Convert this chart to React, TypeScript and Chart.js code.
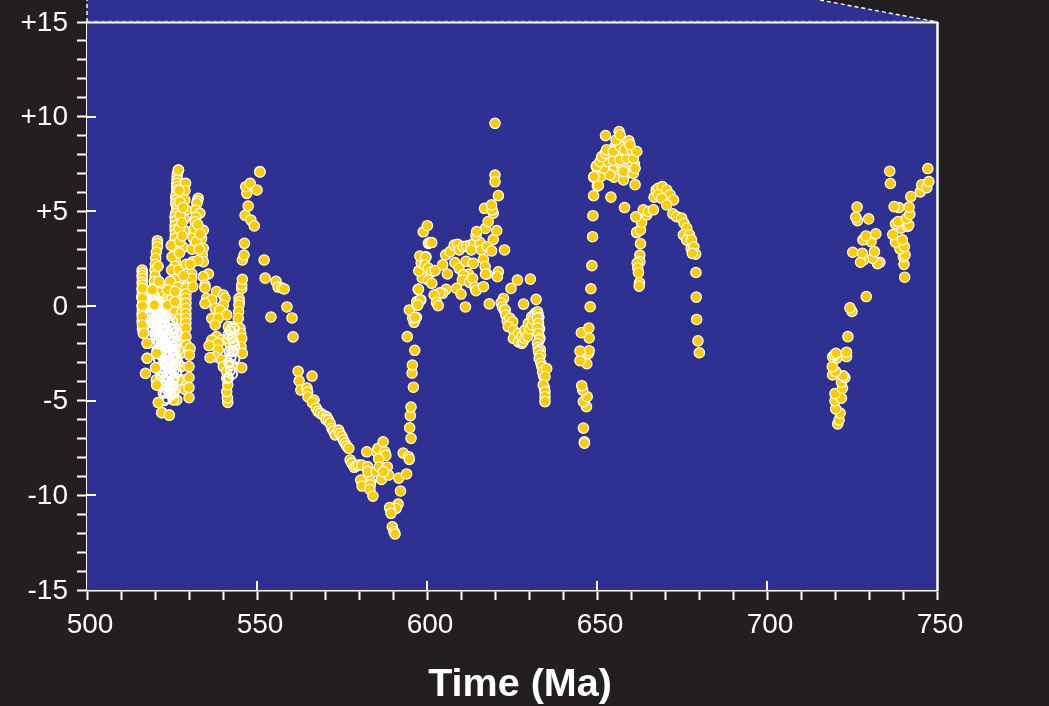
import React, { useEffect, useRef } from "react";
import { Chart, registerables } from "chart.js";

Chart.register(...registerables);

const background = "#231f20";
const panelBlue = "#2e3192";
const markerYellow = "#ffcc00";

const yTickLabels: Record<number, string> = { 15: "+15", 10: "+10", 5: "+5", 0: "0", [-5]: "-5", [-10]: "-10", [-15]: "-15" };
const xLabelEvery = 50;
const yLabelEvery = 5;
const axisTitle = "Time (Ma)";

// upper edge of the panel, beyond the axis limits
const outlineAges = [500, 500, 715.6, 750];
const outlineValues = [15, 16.16, 16.16, 15];

const columnA = [[516.2,1.9],[516.3,1.75],[516.2,1.6],[516.3,1.45],[516.2,1.25],[516.3,1.1],[516.2,0.9],[516.3,0.7],[516.1,0.5],[516.3,0.4],[516.4,0.2],[516.2,0],[516.3,-0.2],[516.2,-0.4],[516.3,-0.6],[516.2,-0.8],[516.4,-1],[516.3,-1.2],[516.6,-1.45],[517.7,-1.97],[517.7,-2.76],[517.2,-3.56]];
const columnB = [[520.7,3.45],[520.7,3.3],[520.7,3.13],[520.4,2.85],[520.2,2.52],[520.1,2.2],[520,1.9],[520,1.59],[519.8,1.3],[519.5,0.93],[519.2,0.85],[519.4,0.6],[519.6,0.3],[519.8,0.05],[520.4,0.4],[520.6,0.1],[520.5,-2.5],[520.2,-3.26],[520.5,-4.17],[520.4,-3.9],[521,-5.1],[522,-5.63],[524.2,-5.76]];
const columnC = [[523.9,1.11],[523.7,0.85],[523.7,0.5],[523.7,0.05],[523.9,-0.3],[525.9,0.76],[525.9,0.23],[525.8,-0.2],[526.4,-4.96],[525.4,-4.96],[525.7,-4.5],[525.8,-4.1]];
const columnD = [[526.9,7.18],[526.6,7],[526.5,6.83],[526.5,6.65],[526.4,6.48],[526.4,6.3],[526.4,6.13],[526.3,5.95],[526.1,5.78],[526.2,5.6],[526.1,5.42],[526.4,5.25],[526.4,5.07],[526.1,4.9],[525.9,4.72],[526,4.5],[525.9,4.25],[525.9,4.01],[526,3.8],[525.9,3.57],[525.9,3.25],[525.9,2.96],[525.9,2.7],[525.9,2.43],[526.9,2.08],[525.8,2.1],[525.7,1.73],[525.9,1.4],[529,6.48],[528.8,6.1],[528.8,5.6],[529.3,5.07],[528.6,4.6],[528.6,4],[528.3,3.1],[528.8,1.02]];
const columnE = [[529.1,0.93],[529.1,0.65],[529.1,0.41],[529.1,0.15],[529.1,-0.12],[529.1,-0.4],[529.1,-0.65],[529.1,-0.9],[529.1,-1.18],[529.1,-1.62],[529.3,-2.06],[530.3,-2.24],[530.1,-2.59],[530,-3.2],[530,-3.78],[530,-4.31],[530,-4.84]];
const columnF = [[532.7,5.69],[532.5,5.55],[532.3,5.42],[532,5.07],[533.2,4.9],[532,4.7],[531.8,4.45],[534.2,4],[531.5,3.75],[533.7,3.57],[531.5,3.13],[534.2,3.05],[533.9,2.7],[531.1,2.34],[534.2,2.34],[530.8,1.7],[535.7,1.69],[534.2,1.55],[530.8,1.46],[534.7,1.11],[531.1,1.02]];
const columnG = [[534.7,0.97],[538.1,0.76],[540.1,0.58],[535.2,0.41],[540.6,0.41],[536.7,0.32],[534.7,0.14],[540.1,0.05],[537.7,-0.12],[539.1,-0.21],[541.1,-0.47],[536.7,-0.65],[538.6,-0.65],[537.7,-1],[541.6,-1.09],[543,-1.09],[538.1,-1.62],[536.7,-1.8],[539.6,-1.8],[538.6,-1.97],[535.9,-2.09],[538.6,-2.32],[537.7,-2.68],[536.2,-2.73],[539.6,-2.85],[540.1,-3.2]];
const columnH = [[541.4,-5.09],[541.3,-4.85],[541.1,-4.52],[541.4,-4.17],[541.1,-3.82],[541.1,-3.47],[545.5,-3.26],[542.6,-3.1],[542.6,-2.41],[542.1,-2.06],[541.6,-1.71],[543,-1.53],[542.6,-1.18]];
const columnI = [[545.5,0.93],[544.7,0.41],[544.8,0.22],[544.7,0.05],[544.6,-0.3],[544.5,-0.65],[545,-1.18],[545.2,-1.45],[545.5,-1.71],[545.3,-2.15],[545.7,-2.5],[545.5,1.11],[545.7,1.41],[545.7,2.43],[546.2,2.69],[546.3,3.31],[546.5,4.79],[548.2,4.54],[549.2,4.23],[547.4,5.28],[547,5.95],[546.7,6.3],[548,6.48],[550,6.13],[550.8,7.1]];
const gapFill = [[521.5,1],[522.5,0.7],[524.5,1.3],[524.9,1.9],[525,2.6],[524.8,3.2],[525.1,0.4],[527.5,1],[527.6,0.3],[528,-0.3],[527.6,-1],[527.9,-1.8],[527.5,-2.5],[527.7,-3.2],[527.9,-3.9],[526.8,1],[526.7,0.2],[526.9,-0.7],[526.8,-1.5],[526.9,-2.3],[526.7,-3],[526.8,-3.9],[528.8,-4.4],[521.1,1.3],[521.2,0.7],[520.9,2.1],[521.3,-0.1]];

const denseEarlyA = [[518.4,0.5],[518.9,0.2],[519.3,-0.1],[518.7,-0.3],[519.6,-0.5],[519.1,-0.7],[520,-0.2],[520.3,-0.6],[519.8,-0.9],[520.6,-0.3],[520.9,-0.8],[520.5,-1],[521.2,-0.4],[521.4,-0.9],[521,-1.2],[521.7,-0.6],[522,-1.1],[521.6,-1.4],[522.3,-0.8],[522.5,-1.3],[522.1,-1.6],[518.2,-0.8],[518.7,-1.1],[519.3,-1.3],[519.9,-1.5],[520.4,-1.7],[521,-1.9],[519.1,0.4],[519.9,0.5],[520.7,0.3],[521.4,0.1],[522.1,-0.2],[522.7,-0.5],[523,-1],[523.2,-1.6],[522.8,-2]];
const denseEarlyB = [[521.5,-2.2],[522,-2.5],[522.6,-2.8],[523.2,-2.2],[523.7,-2.6],[522.2,-3.1],[522.8,-3.4],[523.4,-3],[524,-3.3],[524.5,-2.9],[522.6,-3.9],[523.2,-4.2],[523.8,-3.8],[524.4,-4.1],[525,-3.6],[525.4,-3.2],[523,-4.6],[523.6,-4.9],[524.2,-4.6],[524.8,-4.7],[525.3,-4.2],[525.7,-3.8],[524.1,-1.5],[524.7,-1.9],[525.2,-2.4],[525.6,-1.7],[526,-2.6],[524.5,-1],[525.2,-0.8],[525.8,-1.2],[526.2,-2],[526,-3.1]];
const denseEarlyC = [[518.5,0.1],[518.9,-0.5],[519.2,-0.9],[519.5,0.1],[519.9,-0.7],[520.2,0.1],[520.2,-1.3],[520.7,-0.6],[520.8,-1.4],[521.2,0],[521.1,-1.6],[521.6,-0.2],[521.5,-1],[521.9,-1.8],[522,-0.5],[522.3,-1.5],[522.5,-0.2],[522.7,-1.1],[522.9,-1.9],[523.1,-0.6],[523.4,-1.3],[523.5,-2],[523.8,-0.8],[523.9,-1.8],[521.8,-2.6],[522.3,-2.1],[522.4,-3.5],[522.9,-2.5],[523,-3.1],[523.3,-3.7],[523.5,-2.4],[523.9,-2.9],[524.1,-2.2],[524.3,-3.6],[524.6,-2.5],[524.8,-3.2],[525,-2.1],[525.1,-2.8],[525.3,-3.9],[525.5,-2.6],[525.7,-3.4],[523.4,-4.4],[523.9,-4.3],[524.5,-4.4],[525,-4.3],[525.5,-4.6],[524.9,-1.2],[525.4,-1.4],[525.9,-2.3],[526.3,-1.4],[526.4,-2.8],[526.4,-3.5],[520,-2],[520.6,-2.3],[521,-2.8],[521.3,-3.3],[521.8,-3.7],[522.1,-4.2],[522.4,-4.6],[522.7,-5]];
const denseLate = [[541.5,-1.5],[542.1,-1.3],[542.6,-1.7],[543.1,-1.9],[541.8,-2.4],[542.4,-2.7],[543,-2.4],[543.4,-2.1],[541.7,-3],[542.2,-3.4],[542.8,-3.6],[541.6,-3.8],[543.4,-1.2],[543.5,-2.8]];
const denseEarlyTop = [[527,1.9],[527.2,2.8],[527.3,3.4],[527.1,4.1],[527.4,4.8],[527.3,5.5],[527.1,6.1],[527.9,4.4],[528,3.7],[528.2,5.2],[530.9,3],[531.2,3.6],[531.6,4.1],[532.1,3.4],[532.6,4.3],[533,3],[533.3,3.8],[532.6,2.4],[529.2,2.2],[528.4,1.6],[530.4,2.2]];
const upperVisible = [[516.3,0.93],[516.3,0.41],[516.3,0],[516.3,-0.56],[516.3,-1],[516.6,-1.44],[517.7,-1.97],[517.7,-2.76],[519.2,0.85],[519.8,0.05],[520.5,-2.5],[520.2,-3.26],[520.5,-4.17],[521,-5.1],[522,-5.63],[524.2,-5.76],[523.7,0.85],[523.7,0.05],[525.9,0.76],[525.9,0.23],[526.9,7.18]];

const slope = [[550.9,7.08],[552.1,2.43],[552.4,1.47],[555.6,1.3],[556.2,1],[557.4,0.95],[558,0.9],[558.8,-0.05],[560.3,-0.63],[554.1,-0.58],[560.6,-1.63],[562.1,-3.45],[566.2,-3.7],[562.4,-3.96],[562.9,-4.44],[564.7,-4.33],[564.9,-4.55],[565,-4.8],[566.8,-4.97],[566.3,-5.1],[567.4,-5.39],[568,-5.58],[568.7,-5.67],[569.5,-5.76],[570.5,-5.85],[570.3,-6],[571,-6.02],[571.5,-6.2],[572,-6.46],[572.5,-6.6],[573,-6.81],[574,-6.55],[574.4,-6.73],[575,-6.9],[575.4,-7.08],[575.9,-7.25],[576.4,-7.4],[577,-7.52]];
const trough = [[577.4,-8.13],[577.9,-8.31],[578.6,-8.52],[579.2,-8.45],[579.8,-8.4],[580.8,-8.4],[582.3,-7.7],[582.6,-8.49],[582.6,-8.75],[580.5,-9.19],[580.9,-9.51],[583.4,-9.28],[583.3,-9.45],[583.2,-9.69],[584.1,-10.04],[585,-8.75],[585.2,-7.7],[585.6,-7.52],[587.1,-7.17],[587.6,-7.7],[587.9,-7.89],[585.8,-8.08],[586,-8.49],[588.3,-8.5],[586.6,-9.16],[588.7,-8.93],[587.2,-8.75],[591.7,-9.09],[594,-8.87],[592.2,-9.77],[593,-7.77],[594.6,-7.96],[594.8,-8.1],[591.5,-10.46],[590.9,-10.69],[589,-10.65],[589.4,-10.95],[589.8,-11.66],[590.3,-11.92],[590.6,-12.04]];
const rise = [[595.3,-6.99],[594.9,-6.43],[595.1,-5.79],[595.3,-5.34],[596,-4.29],[595.6,-3.54],[595.7,-3.12],[596.4,-2.34],[594.2,-1.62],[596.9,-0.6],[596.2,-0.86],[595.8,-0.63],[594.8,-0.21],[597.1,0.05],[597,0.23],[598.2,0.32],[597.4,0.88],[598.6,1.48],[597.6,1.85],[598.3,2.29],[597.9,2.64],[599.7,2.6],[600.4,3.31],[598.9,3.92],[600.1,4.24]];
const plateau = [[600.9,3.35],[601.4,3.35],[599.6,2.57],[599.4,2.17],[600.4,2],[601.4,1.81],[602.4,1.87],[600.4,1.37],[601.4,1.2],[597.5,0.88],[598,0.32],[597.3,0.05],[596.5,-0.6],[604.6,2.17],[606,1.69],[605.5,2.7],[606.8,2.87],[608,3.22],[609,3.26],[609.5,2.96],[610.7,3.14],[611.7,3.17],[612.9,3.22],[613.8,3.31],[615.6,3.35],[608.2,2.29],[609.4,1.99],[611.5,2.36],[613,2.96],[616,2.96],[617.7,3.14],[619,2.91],[619.5,3.52],[620.5,3.98],[617.2,4.1],[618,4.46],[614.4,3.72],[614.6,3.93],[616.9,5.16],[619.5,4.9],[619.2,5.07],[619,5.34],[622.8,2.96],[616.6,2.47],[613.6,2.25],[617.1,2.08],[617.7,1.69],[617.2,1.69],[621,1.81],[620.7,1.55],[612.2,1.69],[610.7,1.64],[610.4,1.37],[612.5,1.25],[613.4,1.46],[614.1,0.99],[614.4,0.81],[616.6,1.02],[605.6,0.88],[604.6,0.67],[603.8,0.7],[602.1,0.58],[608.7,0.93],[610,0.63],[602.8,0.18],[603.3,0.02],[611.3,-0.05],[618.3,0.11],[620,9.65],[620,6.92],[620,6.56],[621,5.83]];
const decline = [[626.6,1.37],[630.4,1.42],[624.7,0.93],[632.1,0.35],[628.4,0.1],[622.5,0.4],[621.8,0.17],[622.2,-0.05],[622.7,-0.21],[623,-0.2],[623.2,-0.48],[623.6,-0.8],[624.4,-0.65],[624.7,-0.95],[625.2,-0.83],[623.9,-1.09],[625.4,-1.27],[625.4,-1.71],[626.9,-1.45],[626.9,-1.89],[627.9,-1.97],[628.2,-1.9],[627.9,-1.62],[628.8,-1.71],[629.3,-1.27],[628.8,-1.27],[629.6,-1.6],[629.8,-0.92],[630.3,-1.2],[630.8,-0.57],[631,-1],[631.2,-0.7],[631.8,-0.39],[632.5,-0.3],[632.7,-0.45],[632.9,-0.6],[632.5,-0.65],[632.8,-0.92],[633.1,-1.2],[632.6,-1.15],[632.8,-1.45],[633.2,-1.7],[633,-1.8],[632.5,-1.97],[632.7,-2.2],[633.3,-2.3],[632.8,-2.41],[633.4,-2.6],[633,-2.77],[633.5,-3.03],[633.8,-3.2],[634.3,-3.7],[634,-3.47],[635.2,-3.3],[634.7,-3.73],[634.5,-4.3],[634.2,-4.17],[634.7,-4.53],[634.7,-4.79],[634.7,-5.05]];
const secondRise = [[646.3,-7.17],[646.3,-7.25],[646,-6.45],[646.9,-5.32],[646,-5.05],[647.1,-4.79],[645.8,-4.44],[645.5,-4.21],[647,-3.05],[645,-2.89],[647.5,-2.5],[647.7,-2.36],[645,-2.38],[647.7,-1.69],[645.4,-1.41],[647.6,-1.16],[648,-0.04],[648.2,0.91],[648.5,2.13],[648.7,3.66],[648.8,4.77],[649,5.83],[649.1,6.79],[650.1,6.34],[649.8,7.36]];
const summit = [[650.6,7.1],[651.5,7.5],[652.3,7.6],[653,7.9],[654,8.1],[655.2,8.4],[656,8.6],[657.3,8.8],[658,8.4],[659,8.2],[660,8.05],[661,7.5],[655.5,7.4],[654.5,7.2],[656.2,7.9],[657.5,7.5],[659.5,7.4],[658.8,7],[660,7.6],[652.5,7.1],[655,6.8],[650.4,6.36],[651.1,6.84],[649.1,6.84],[653.8,6.92],[657.8,6.66],[660.7,7.01],[661.2,7.28],[657.8,7.1],[651.9,7.28],[649.9,7.4],[650.9,7.63],[653.3,7.63],[654.8,7.72],[656.8,7.72],[658.7,7.81],[660.7,7.81],[651.4,7.89],[652.4,8.07],[652.8,8.25],[654.8,8.16],[656.8,8.42],[658.2,8.25],[660.2,8.25],[661.7,8.16],[659.4,8.72],[659.7,8.51],[655.6,8.77],[656.5,9.21],[656.8,9.04],[652.5,9],[661.2,6.41],[654.1,5.75],[658.1,5.2]];
const shoulder = [[661.7,3.87],[662.8,3.29],[662.6,2.69],[662.6,2.34],[661.8,2.27],[662,2],[662.2,1.76],[662.5,1.23],[662.4,1.05],[661.7,3.9],[662.8,4.02],[663.1,4.41],[661.4,4.71],[664.6,4.81],[663.6,5.08],[665.1,4.99],[666.6,5.08],[666.8,5.75],[667.4,6.13],[668,6.22],[669.2,6.31],[670.5,6.13],[671.5,5.87],[672.5,5.6],[668,5.87],[669,5.69],[670.5,5.34],[672.3,4.87],[673.4,4.72],[674.9,4.64],[675.6,4.37],[676.4,4.11],[675.4,3.76],[677.2,3.76],[676.4,3.48],[677.8,3.49],[677.7,3.04],[678.5,3.13],[679,2.74],[678,2.78],[679.1,1.77],[679.2,0.47],[679.3,-0.71],[679.7,-1.84],[680.1,-2.47]];
const lastLow = [[720.8,-6.23],[721.2,-6.02],[721.5,-5.66],[720.2,-5.43],[720,-5.01],[721.9,-4.87],[720,-4.63],[722.2,-4.34],[721.9,-4.03],[722.9,-3.78],[722.4,-3.69],[719.3,-3.64],[720.2,-3.46],[719.2,-3.2],[720.5,-2.76],[719.3,-2.69],[719.8,-2.58],[720.3,-2.5],[723.4,-2.67],[723.4,-2.44],[723.8,-1.62],[725,-0.29],[724.4,-0.1],[729.2,0.5]];
const lastMiddle = [[733.2,2.31],[732.5,2.24],[731,2.52],[728.4,2.43],[727.5,2.31],[728,2.79],[725.2,2.84],[731.6,2.87],[730.6,3.4],[728.2,3.49],[729.1,3.7],[732,3.81],[729.9,4.6],[726.6,4.51],[726.1,4.69],[726.5,5.22]];
const lastHigh = [[740.5,1.52],[740.3,2.2],[740.1,2.61],[740.6,2.7],[739.1,3.02],[740.4,3.14],[737.8,3.37],[739.8,3.49],[737,3.77],[739.4,4.11],[737.8,4.34],[738.6,4.46],[741.4,4.2],[741.7,4.28],[741,4.63],[742,4.85],[738.8,5.2],[737.4,5.25],[741.8,5.22],[742.3,5.78],[745.1,6.03],[745.5,6.4],[747,6.25],[747.6,6.57],[747.3,7.26],[736.3,6.47],[736.1,7.12]];

const baseLayer = [columnA, columnB, columnC, columnD, gapFill, columnE, columnF, columnG, columnH, columnI, denseEarlyTop, slope, trough, rise, plateau, decline, secondRise, summit, shoulder, lastLow, lastMiddle, lastHigh].flat();
const ringLayer = [denseEarlyA, denseEarlyB, denseEarlyC, denseLate].flat();
const toPoints = (pairs: number[][]) => pairs.map(([x, y]) => ({ x, y }));

const panelPlugin = {
  id: "panel",
  beforeDatasetsDraw(chart: any) {
    const { ctx, chartArea: a, scales } = chart;
    const { x, y } = scales;
    ctx.save();
    ctx.fillStyle = panelBlue;
    ctx.fillRect(a.left, a.top, a.right - a.left, a.bottom - a.top);
    ctx.beginPath();
    outlineAges.forEach((age, i) => {
      const px = x.getPixelForValue(age);
      const py = y.getPixelForValue(outlineValues[i]);
      if (i === 0) ctx.moveTo(px, py);
      else ctx.lineTo(px, py);
    });
    ctx.closePath();
    ctx.fill();
    ctx.strokeStyle = "#ffffff";
    ctx.lineWidth = 1.4;
    ctx.setLineDash([4, 3]);
    ctx.beginPath();
    outlineAges.forEach((age, i) => {
      const px = x.getPixelForValue(age);
      const py = y.getPixelForValue(outlineValues[i]);
      if (i === 0) ctx.moveTo(px, py);
      else if (i !== 2) ctx.lineTo(px, py);
      else ctx.moveTo(px, py);
    });
    ctx.stroke();
    ctx.strokeStyle = "rgba(255,255,255,0.35)";
    ctx.lineWidth = 1;
    ctx.beginPath();
    ctx.moveTo(a.left, a.top - 1);
    ctx.lineTo(a.right, a.top - 1);
    ctx.stroke();
    ctx.setLineDash([]);
    ctx.strokeStyle = "#ffffff";
    ctx.lineWidth = 2;
    ctx.beginPath();
    ctx.moveTo(a.left, a.top + 0.5);
    ctx.lineTo(a.right + 1, a.top + 0.5);
    ctx.stroke();
    ctx.lineWidth = 2.5;
    ctx.beginPath();
    ctx.moveTo(a.right + 0.5, a.top);
    ctx.lineTo(a.right + 0.5, a.bottom + 1);
    ctx.stroke();
    ctx.lineWidth = 2;
    ctx.beginPath();
    x.ticks.forEach((t: any) => {
      if (t.value % xLabelEvery === 0 && t.value !== x.min && t.value !== x.max) {
        const px = Math.round(x.getPixelForValue(t.value));
        ctx.moveTo(px, a.bottom);
        ctx.lineTo(px, a.bottom - 9);
      }
    });
    y.ticks.forEach((t: any) => {
      if (t.value % yLabelEvery === 0 && t.value !== y.min && t.value !== y.max) {
        const py = Math.round(y.getPixelForValue(t.value));
        ctx.moveTo(a.left, py);
        ctx.lineTo(a.left + 9, py);
      }
    });
    ctx.stroke();
    ctx.restore();
  },
  afterDraw(chart: any) {
    const { ctx, chartArea: a } = chart;
    ctx.save();
    ctx.fillStyle = "#ffffff";
    ctx.font = 'bold 39.5px "Liberation Sans", Arial, sans-serif';
    ctx.textAlign = "center";
    ctx.textBaseline = "alphabetic";
    ctx.fillText(axisTitle, (a.left + a.right) / 2 + 8, 696);
    ctx.restore();
  },
};

export default function App() {
  const ref = useRef<HTMLCanvasElement>(null);
  useEffect(() => {
    document.body.style.margin = "0";
    const point = {
      pointRadius: 5.2,
      pointHoverRadius: 5.2,
      pointBorderWidth: 1.2,
      pointBorderColor: "#ffffff",
      pointBackgroundColor: markerYellow,
      showLine: false,
      clip: false,
    };
    const tickFont = { family: '"Liberation Sans", Arial, sans-serif', size: 28 };
    const chart = new Chart(ref.current!, {
      type: "scatter",
      data: {
        datasets: [
          { label: "upper", data: toPoints(upperVisible), ...point, order: 1 },
          { label: "rings", data: toPoints(ringLayer), ...point, pointRadius: 4.6, pointBorderWidth: 2, pointBackgroundColor: "rgba(255,255,255,0)", order: 2 },
          { label: "all", data: toPoints(baseLayer), ...point, order: 3 },
        ],
      },
      options: {
        responsive: false,
        animation: false,
        layout: { autoPadding: false, padding: { top: 22, right: 112, left: 0, bottom: 0 } },
        plugins: { legend: { display: false }, tooltip: { enabled: false } },
        scales: {
          x: {
            type: "linear",
            min: 500,
            max: 750,
            afterFit(s: any) { s.height = 116; s.paddingLeft = 0; s.paddingRight = 0; },
            border: { color: "#ffffff", width: 2.5 },
            grid: { drawOnChartArea: false, drawTicks: true, tickLength: 10, tickColor: "#ffffff", tickWidth: 2 },
            ticks: {
              stepSize: 10,
              autoSkip: false,
              maxRotation: 0,
              color: "#ffffff",
              font: tickFont,
              padding: 8,
              labelOffset: 3,
              callback: (v: any) => (Number(v) % xLabelEvery === 0 ? String(v) : ""),
            },
          },
          y: {
            type: "linear",
            min: -15,
            max: 15,
            afterFit(s: any) { s.width = 87; s.paddingTop = 0; s.paddingBottom = 0; },
            border: { color: "#ffffff", width: 2.5 },
            grid: { drawOnChartArea: false, drawTicks: true, tickLength: 10, tickColor: "#ffffff", tickWidth: 2 },
            ticks: {
              stepSize: 1,
              autoSkip: false,
              color: "#ffffff",
              font: tickFont,
              padding: 9,
              labelOffset: 1,
              callback: (v: any) => yTickLabels[Number(v)] ?? "",
            },
          },
        },
      },
      plugins: [panelPlugin],
    } as any);
    return () => chart.destroy();
  }, []);
  return (
    <div style={{ position: "absolute", left: 0, top: 0, width: 1049, height: 706, background, overflow: "hidden" }}>
      <canvas ref={ref} width={1049} height={706} style={{ display: "block" }} />
    </div>
  );
}
